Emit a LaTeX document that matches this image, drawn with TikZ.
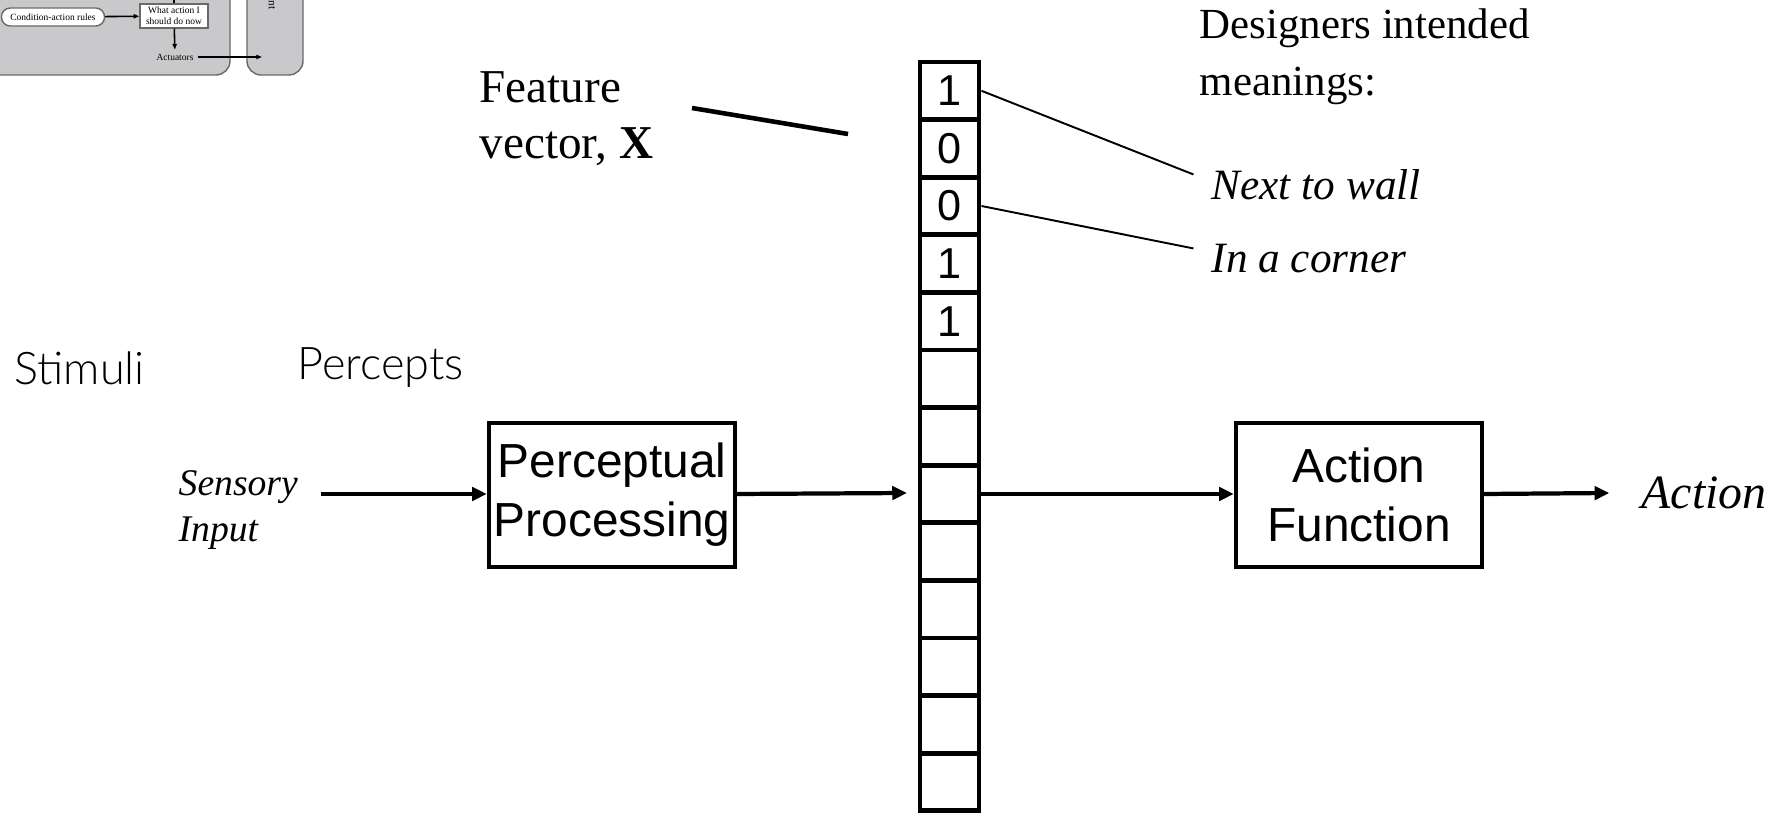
\documentclass[tikz,border=0pt]{standalone}
\usepackage{fontspec}
\usepackage{tikz}
\usetikzlibrary{arrows.meta}
\setmainfont{Liberation Serif}
\setsansfont{Liberation Sans}
\newfontfamily\lightsans{Lato Light}
\definecolor{fraggray}{RGB}{201,201,203}
\definecolor{fragline}{RGB}{105,105,108}

\begin{document}
\begin{tikzpicture}[x=0.01cm,y=-0.01cm]
  \def\cy{57.6}
  \tikzset{cell/.style={draw,line width=1.4pt,minimum width=0.59cm,minimum height=0.576cm,inner sep=0pt,font=\sffamily\fontsize{12.3}{14}\selectfont}}
  \tikzset{procbox/.style={draw,line width=1.2pt,minimum width=2.46cm,minimum height=1.44cm,inner sep=0pt,align=center,font=\sffamily\fontsize{13.6}{16.8}\selectfont}}
  \tikzset{flow/.style={-{Triangle[length=4.2pt,width=3.8pt]},line width=1.2pt}}
  \tikzset{leader/.style={line width=0.55pt}}
  \tikzset{note/.style={anchor=west,align=left,inner sep=0pt}}
  \tikzset{fragbox/.style={draw=fragline,fill=white,line width=0.4pt,inner sep=0.6pt,align=center,font=\fontsize{2.7}{3}\selectfont}}
  \tikzset{fragarrow/.style={-{Triangle[length=1.6pt,width=1.2pt]},line width=0.45pt}}
  \useasboundingbox (0,0) rectangle (1778,813);
  % corner of the earlier slide's agent figure
  \draw[fill=fraggray,draw=fragline,line width=0.4pt,rounded corners=4pt] (-40,-40) rectangle (230,75);
  \draw[fill=fraggray,draw=fragline,line width=0.4pt,rounded corners=4pt] (247,-40) rectangle (303,75);
  \node[fragbox,rounded corners=2.5pt,minimum width=1.03cm,minimum height=0.18cm] (rules) at (53,17) {Condition-action rules};
  \node[fragbox,minimum width=0.68cm,minimum height=0.24cm] (what) at (174,16) {What action I\\should do now};
  \node[inner sep=1pt,font=\fontsize{2.7}{3}\selectfont] (actu) at (175,57) {Actuators};
  \node[rotate=-90,inner sep=0pt,font=\fontsize{3.2}{3.5}\selectfont] (envlbl) at (272,5) {nt};
  \coordinate (whatin) at (174,-5);
  \coordinate (envin) at (262,57);
  \draw[line width=0.45pt] (whatin) -- (what.north);
  \draw[fragarrow] (rules) -- (what);
  \draw[fragarrow] (what) -- (actu);
  \draw[fragarrow] (actu) -- (envin);
  % feature vector
  \foreach \v [count=\i] in {1,0,0,1,1,{},{},{},{},{},{},{},{}}
    \node[cell] (c\i) at (949.5,{62+\cy*(\i-0.5)}) {\v};
  \node[procbox] (percep) at (612,495) {Perceptual\\Processing};
  \node[procbox] (actfn) at (1359,495) {Action\\Function};
  \node[note,font=\itshape\fontsize{10.7}{13}\selectfont] (sensory) at (178,510) {Sensory\\Input};
  \node[note,font=\itshape\fontsize{13.6}{16}\selectfont] (action) at (1641,493) {Action};
  \node[note,font=\lightsans\fontsize{12.8}{14}\selectfont] (stimuli) at (14,368) {Stimuli};
  \node[note,font=\lightsans\fontsize{12.8}{14}\selectfont] (percepts) at (297,368) {Percepts};
  \node[note,font=\fontsize{13.4}{16}\selectfont] (feat) at (479,119) {Feature\\vector, \textbf{X}};
  \node[note,font=\fontsize{12.2}{16.2}\selectfont] (designers) at (1199,57) {Designers intended\\meanings:};
  \node[note,font=\itshape\fontsize{12.3}{14}\selectfont] (wall) at (1211,185) {Next to wall};
  \node[note,font=\itshape\fontsize{12.3}{14}\selectfont] (corner) at (1211,259) {In a corner};
  \coordinate (fvs) at (692,108);
  \coordinate (fve) at (848,134);
  \coordinate (vin) at (907,493);
  \draw[line width=1.3pt] (fvs) -- (fve);
  \draw[leader] (c1.east) -- ([xshift=-5pt,yshift=3pt]wall.west);
  \draw[leader] (c3.east) -- ([xshift=-5pt,yshift=3pt]corner.west);
  \draw[flow] ([xshift=6.5pt]sensory.east |- c8.west) -- (percep.west |- c8.west);
  \draw[flow] (percep.east |- c8.west) -- (vin);
  \draw[flow] (c8.east) -- (actfn.west |- c8.east);
  \draw[flow] (actfn.east |- c8.east) -- ([xshift=-9pt]action.west);
\end{tikzpicture}
\end{document}
